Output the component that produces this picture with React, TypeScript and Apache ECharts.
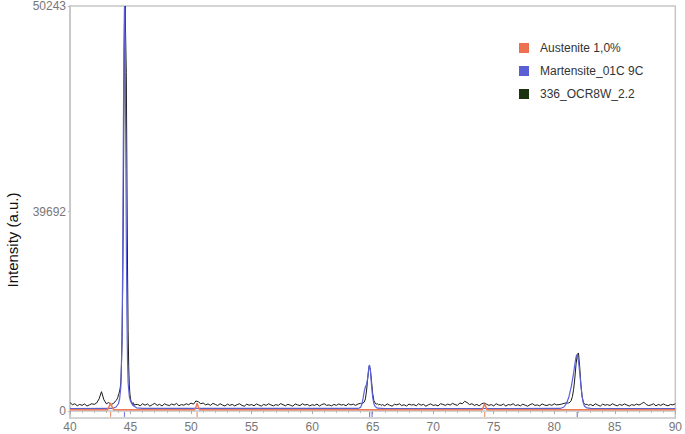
import React, { useEffect, useRef } from "react";
import * as echarts from "echarts";

// Observed pattern (336_OCR8W_2.2), sampled in segments: [start, step, values]
const obsSegA = { start: 40.0, step: 0.2, y: [1050, 780, 900, 650, 820, 700, 880, 620, 760, 900, 820, 1000, 1500, 2400, 1400, 900, 1050, 800, 950, 1300] };
const obsSegB = { start: 43.9, step: 0.05, y: [1500, 1700, 2000, 2200, 2500, 2900, 3600, 5500, 9000, 15000, 24000, 36000, 48000, 50243, 50243, 42000, 30000, 18000, 10000, 5500, 3200, 2100, 1500, 1200, 1000, 900, 1050, 800, 850, 700, 800] };
const obsSegC = { start: 45.6, step: 0.2, y: [
  820, 650, 900, 720, 880, 600, 790, 950, 700, 830,
  620, 900, 760, 680, 870, 740, 950, 650, 800, 720,
  900, 780, 980, 850, 1250, 1150, 900, 1000, 760, 880,
  700, 950, 820, 680, 900, 740, 620, 860, 700, 820,
  640, 780, 900, 700, 600, 850, 720, 800, 650, 880,
  740, 610, 830, 700, 900, 760, 640, 800, 700, 920,
  780, 650, 840, 720, 600, 880, 760, 680, 900, 740,
  820, 640, 780, 700, 860, 620, 800, 900, 700, 760,
  640, 820, 700, 880, 740, 800, 660, 900, 760, 850,
  700, 880, 950] };
const obsSegD = { start: 64.1, step: 0.1, y: [900, 1000, 1100, 1500, 2600, 4200, 5500, 5300, 3800, 2200, 1300, 1000, 850, 900, 760, 850, 700] };
const obsSegE = { start: 65.8, step: 0.2, y: [
  800, 650, 880, 720, 600, 840, 760, 900, 680, 780,
  620, 860, 740, 800, 650, 900, 720, 830, 600, 780,
  880, 700, 760, 640, 900, 820, 700, 860, 740, 950,
  800, 700, 1000, 900, 1200, 1050, 800, 900, 700, 820,
  650, 880, 1000, 850, 700, 800, 640, 900, 760, 700,
  860, 620, 800, 740, 900, 680, 780, 640, 850, 720,
  600, 800, 900, 700, 760, 640, 880, 740, 680, 820,
  700, 900, 760, 800, 850, 950, 1000] };
const obsSegF = { start: 81.2, step: 0.1, y: [1000, 1100, 1300, 1800, 2700, 4100, 5800, 7000, 7200, 5500, 3300, 1800, 1100, 900, 780, 850, 700] };
const obsSegG = { start: 83.0, step: 0.2, y: [
  820, 650, 900, 740, 600, 860, 720, 800, 680, 900,
  760, 640, 820, 700, 880, 740, 620, 800, 700, 860,
  740, 900, 1100, 800, 680, 760, 900, 640, 820, 700,
  880, 740, 650, 820, 760, 900] };

// Martensite_01C 9C calculated pattern
const martX = [40, 43.5, 43.8, 44.0, 44.1, 44.2, 44.3, 44.35, 44.4, 44.45, 44.5, 44.55, 44.6, 44.65, 44.7, 44.75, 44.8, 44.9, 45.0, 45.2, 45.5, 46.0, 63.8, 64.0, 64.1, 64.2, 64.3, 64.4, 64.5, 64.6, 64.7, 64.75, 64.8, 64.9, 65.0, 65.1, 65.2, 65.4, 66.0, 80.5, 80.8, 81.0, 81.2, 81.4, 81.6, 81.7, 81.8, 81.85, 81.9, 82.0, 82.1, 82.2, 82.3, 82.4, 82.5, 82.7, 83.0, 90.0];
const martY = [300, 320, 500, 900, 1500, 3000, 9000, 18000, 32000, 45000, 50243, 46000, 35000, 22000, 12000, 6500, 3500, 1800, 1200, 700, 400, 320, 320, 450, 800, 1500, 2400, 3000, 3300, 4200, 5600, 5700, 5200, 3300, 1700, 900, 550, 350, 300, 320, 500, 900, 1700, 3000, 4700, 5800, 6700, 6950, 6900, 6200, 4800, 3200, 1800, 1000, 600, 380, 320, 300];

// Austenite 1,0% calculated pattern
const austX = [40, 43.1, 43.25, 43.35, 43.45, 43.6, 50.3, 50.42, 50.5, 50.58, 50.7, 74.05, 74.17, 74.25, 74.33, 74.45, 90];
const austY = [150, 160, 600, 1000, 600, 170, 150, 600, 950, 600, 150, 150, 600, 900, 600, 150, 150];

// Bragg reflection positions
const austTicks = [43.35, 50.5, 74.25];
const martTicks = [44.5, 64.75, 64.95, 81.9];

// Axis labels
const yTickValues = [0, 24750, 50243];
const yTickLabels = ["0", "39692", "50243"];
const seriesNames = ["Austenite 1,0%", "Martensite_01C 9C", "336_OCR8W_2.2"];

const FONT = "'Liberation Sans', Arial, Helvetica, sans-serif";

function segPairs(seg: { start: number; step: number; y: number[] }) {
  return seg.y.map((v, i) => [Number((seg.start + i * seg.step).toFixed(2)), v]);
}

export default function App() {
  const ref = useRef<HTMLDivElement>(null);
  useEffect(() => {
    if (!ref.current) return;
    const chart = echarts.init(ref.current, undefined, { renderer: "svg" });
    const obs = [obsSegA, obsSegB, obsSegC, obsSegD, obsSegE, obsSegF, obsSegG].flatMap(segPairs);
    const mart = martX.map((x, i) => [x, martY[i]]);
    const aust = austX.map((x, i) => [x, austY[i]]);
    const gray = "#c6c6c6";
    chart.setOption({
      animation: false,
      backgroundColor: "#ffffff",
      grid: { left: 70, right: 4, top: 5, bottom: 16, show: true, borderColor: gray, borderWidth: 1.5 },
      legend: {
        data: seriesNames,
        orient: "vertical",
        left: 514,
        top: 36,
        icon: "rect",
        itemWidth: 10,
        itemHeight: 10,
        itemGap: 9,
        textStyle: { fontSize: 12, color: "#333", fontFamily: FONT, lineHeight: 14, padding: [0, 0, 0, 6] },
      },
      xAxis: {
        type: "value",
        min: 40,
        max: 90,
        interval: 5,
        axisLine: { show: true, lineStyle: { color: gray, width: 1.5 } },
        axisTick: { show: true, length: 3, lineStyle: { color: "#aaa" } },
        minorTick: { show: true, splitNumber: 5, length: 2, lineStyle: { color: "#bbb" } },
        axisLabel: { color: "#777", fontSize: 12, fontFamily: FONT, margin: 3 },
        splitLine: { show: false },
      },
      yAxis: {
        type: "value",
        min: -866,
        max: 50243,
        axisLine: { show: true, lineStyle: { color: gray, width: 1.5 } },
        axisTick: { show: true, length: 2, customValues: yTickValues, lineStyle: { color: "#bbb" } },
        axisLabel: {
          color: "#777",
          fontSize: 12,
          fontFamily: FONT,
          margin: 4,
          customValues: yTickValues,
          formatter: (v: number) => {
            const i = yTickValues.indexOf(v);
            return i >= 0 ? yTickLabels[i] : "";
          },
        },
        splitLine: { show: false },
      },
      graphic: [
        {
          type: "text",
          x: 12,
          y: 240,
          rotation: Math.PI / 2,
          style: {
            text: "Intensity (a.u.)",
            fill: "#111",
            font: `15px ${FONT}`,
            textAlign: "center",
            textVerticalAlign: "middle",
          },
        },
      ],
      series: [
        {
          name: seriesNames[2],
          type: "line",
          data: obs,
          showSymbol: false,
          color: "#1c3310",
          lineStyle: { color: "#1a1a1a", width: 1 },
          z: 2,
        },
        {
          name: seriesNames[1],
          type: "line",
          data: mart,
          showSymbol: false,
          color: "#5a5fd3",
          lineStyle: { color: "#5b62d6", width: 1.2 },
          z: 3,
        },
        {
          name: seriesNames[0],
          type: "line",
          data: aust,
          showSymbol: false,
          color: "#ec7152",
          lineStyle: { color: "#ee7a55", width: 1.5 },
          z: 4,
        },
        {
          name: "austTicks",
          type: "scatter",
          data: austTicks.map((x) => [x, -420]),
          symbol: "rect",
          symbolSize: [1.2, 5],
          itemStyle: { color: "#ee7a55" },
          silent: true,
          z: 5,
        },
        {
          name: "martTicks",
          type: "scatter",
          data: martTicks.map((x) => [x, -420]),
          symbol: "rect",
          symbolSize: [1.2, 5],
          itemStyle: { color: "#5b62d6" },
          silent: true,
          z: 5,
        },
      ],
    });
    return () => chart.dispose();
  }, []);
  return <div ref={ref} style={{ position: "absolute", left: 0, top: 0, width: 685, height: 434 }} />;
}
